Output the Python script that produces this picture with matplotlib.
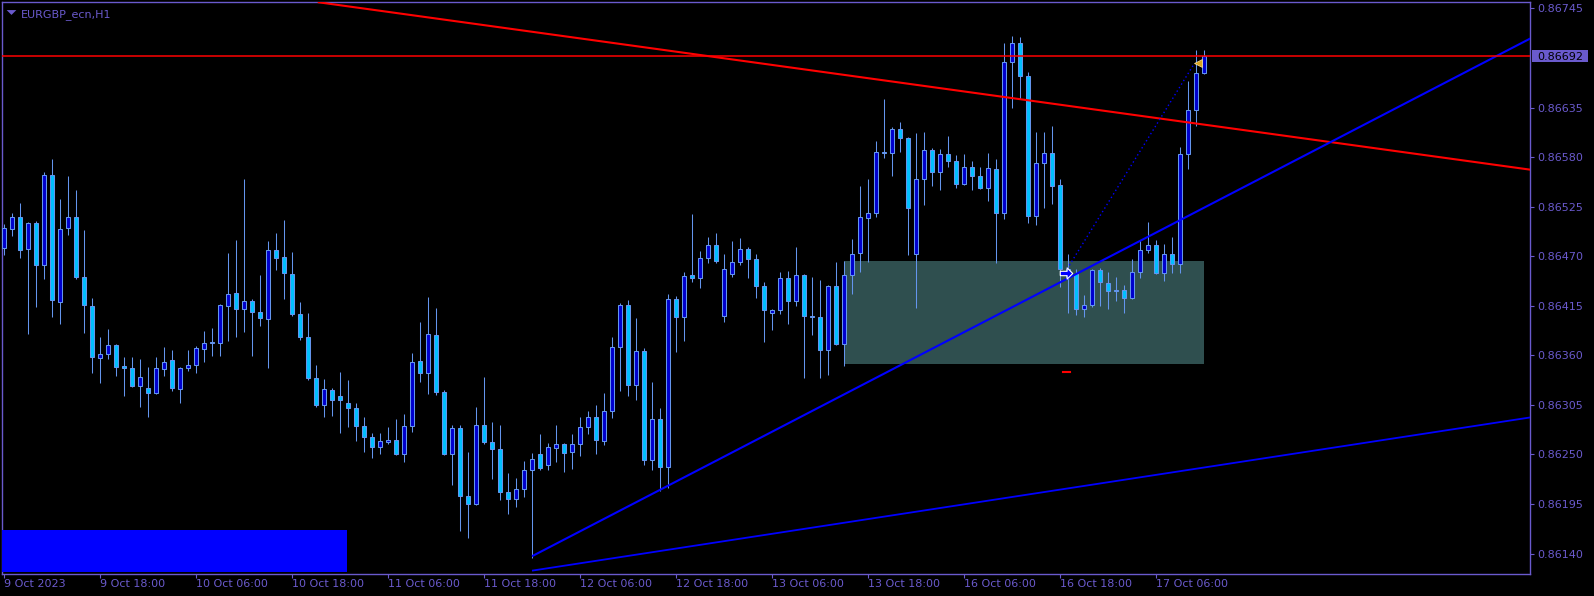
import matplotlib
matplotlib.use("Agg")
import numpy as np
import matplotlib.pyplot as plt
from matplotlib.patches import Rectangle
from matplotlib.transforms import blended_transform_factory

symbol = "EURGBP_ecn,H1"

# hourly candles
opens = [0.86479, 0.86500, 0.86514, 0.86478, 0.86507, 0.86460, 0.86560, 0.86419, 0.86501, 0.86514,
         0.86447, 0.86415, 0.86357, 0.86362, 0.86371, 0.86348, 0.86346, 0.86326, 0.86324, 0.86318,
         0.86345, 0.86355, 0.86323, 0.86346, 0.86349, 0.86367, 0.86374, 0.86374, 0.86415, 0.86429,
         0.86411, 0.86420, 0.86408, 0.86400, 0.86477, 0.86469, 0.86450, 0.86406, 0.86380, 0.86335,
         0.86305, 0.86322, 0.86315, 0.86307, 0.86301, 0.86282, 0.86269, 0.86258, 0.86264, 0.86266,
         0.86250, 0.86282, 0.86354, 0.86340, 0.86383, 0.86319, 0.86251, 0.86279, 0.86204, 0.86195,
         0.86283, 0.86264, 0.86256, 0.86208, 0.86201, 0.86212, 0.86233, 0.86250, 0.86238, 0.86257,
         0.86262, 0.86253, 0.86262, 0.86280, 0.86292, 0.86265, 0.86298, 0.86369, 0.86416, 0.86327,
         0.86365, 0.86244, 0.86289, 0.86236, 0.86422, 0.86403, 0.86449, 0.86446, 0.86468, 0.86482,
         0.86404, 0.86450, 0.86464, 0.86478, 0.86467, 0.86437, 0.86407, 0.86410, 0.86446, 0.86420,
         0.86449, 0.86404, 0.86403, 0.86366, 0.86437, 0.86373, 0.86449, 0.86474, 0.86512, 0.86518,
         0.86586, 0.86584, 0.86611, 0.86601, 0.86472, 0.86556, 0.86588, 0.86564, 0.86583, 0.86576,
         0.86550, 0.86569, 0.86559, 0.86546, 0.86567, 0.86518, 0.86686, 0.86707, 0.86670, 0.86515,
         0.86574, 0.86584, 0.86549, 0.86456, 0.86450, 0.86411, 0.86416, 0.86455, 0.86440, 0.86433,
         0.86433, 0.86424, 0.86453, 0.86477, 0.86482, 0.86451, 0.86473, 0.86461, 0.86583, 0.86632,
         0.86673]
highs = [0.86506, 0.86518, 0.86529, 0.86508, 0.86509, 0.86563, 0.86578, 0.86534, 0.86559, 0.86544,
         0.86499, 0.86424, 0.86380, 0.86389, 0.86373, 0.86358, 0.86358, 0.86356, 0.86347, 0.86358,
         0.86369, 0.86366, 0.86347, 0.86366, 0.86370, 0.86387, 0.86390, 0.86417, 0.86474, 0.86488,
         0.86556, 0.86423, 0.86449, 0.86487, 0.86496, 0.86510, 0.86475, 0.86419, 0.86407, 0.86349,
         0.86334, 0.86324, 0.86342, 0.86333, 0.86307, 0.86292, 0.86274, 0.86274, 0.86280, 0.86289,
         0.86295, 0.86363, 0.86397, 0.86425, 0.86413, 0.86322, 0.86283, 0.86283, 0.86253, 0.86303,
         0.86336, 0.86286, 0.86283, 0.86229, 0.86224, 0.86243, 0.86252, 0.86273, 0.86263, 0.86283,
         0.86263, 0.86273, 0.86292, 0.86298, 0.86305, 0.86318, 0.86380, 0.86418, 0.86421, 0.86401,
         0.86368, 0.86330, 0.86301, 0.86428, 0.86426, 0.86452, 0.86517, 0.86476, 0.86491, 0.86496,
         0.86472, 0.86487, 0.86490, 0.86480, 0.86473, 0.86441, 0.86411, 0.86452, 0.86454, 0.86480,
         0.86450, 0.86447, 0.86444, 0.86438, 0.86464, 0.86465, 0.86489, 0.86548, 0.86556, 0.86598,
         0.86644, 0.86613, 0.86619, 0.86602, 0.86607, 0.86608, 0.86590, 0.86589, 0.86603, 0.86582,
         0.86583, 0.86576, 0.86569, 0.86584, 0.86578, 0.86707, 0.86714, 0.86713, 0.86674, 0.86608,
         0.86608, 0.86614, 0.86556, 0.86472, 0.86456, 0.86427, 0.86456, 0.86457, 0.86453, 0.86447,
         0.86438, 0.86467, 0.86488, 0.86508, 0.86488, 0.86484, 0.86491, 0.86591, 0.86665, 0.86699,
         0.86699]
lows = [0.86471, 0.86492, 0.86468, 0.86384, 0.86414, 0.86445, 0.86402, 0.86395, 0.86494, 0.86445,
        0.86385, 0.86340, 0.86329, 0.86356, 0.86337, 0.86315, 0.86325, 0.86303, 0.86292, 0.86317,
        0.86337, 0.86320, 0.86307, 0.86343, 0.86340, 0.86353, 0.86359, 0.86359, 0.86376, 0.86380,
        0.86386, 0.86359, 0.86392, 0.86346, 0.86455, 0.86422, 0.86404, 0.86377, 0.86333, 0.86303,
        0.86291, 0.86293, 0.86274, 0.86281, 0.86265, 0.86253, 0.86246, 0.86250, 0.86262, 0.86249,
        0.86242, 0.86275, 0.86330, 0.86317, 0.86316, 0.86249, 0.86216, 0.86165, 0.86157, 0.86194,
        0.86262, 0.86223, 0.86199, 0.86184, 0.86192, 0.86203, 0.86135, 0.86233, 0.86233, 0.86242,
        0.86231, 0.86234, 0.86248, 0.86273, 0.86250, 0.86261, 0.86290, 0.86320, 0.86315, 0.86310,
        0.86238, 0.86233, 0.86209, 0.86213, 0.86364, 0.86376, 0.86441, 0.86435, 0.86462, 0.86463,
        0.86397, 0.86447, 0.86460, 0.86446, 0.86424, 0.86375, 0.86388, 0.86406, 0.86395, 0.86415,
        0.86335, 0.86383, 0.86335, 0.86338, 0.86371, 0.86348, 0.86428, 0.86453, 0.86464, 0.86513,
        0.86579, 0.86559, 0.86586, 0.86471, 0.86413, 0.86527, 0.86548, 0.86543, 0.86569, 0.86546,
        0.86549, 0.86544, 0.86545, 0.86531, 0.86462, 0.86511, 0.86635, 0.86645, 0.86507, 0.86505,
        0.86523, 0.86528, 0.86436, 0.86407, 0.86405, 0.86403, 0.86414, 0.86415, 0.86411, 0.86420,
        0.86407, 0.86423, 0.86446, 0.86474, 0.86450, 0.86443, 0.86451, 0.86451, 0.86567, 0.86615,
        0.86672]
closes = [0.86501, 0.86513, 0.86477, 0.86507, 0.86460, 0.86560, 0.86421, 0.86500, 0.86514, 0.86447,
          0.86416, 0.86358, 0.86362, 0.86371, 0.86347, 0.86346, 0.86326, 0.86336, 0.86318, 0.86346,
          0.86353, 0.86324, 0.86346, 0.86349, 0.86368, 0.86374, 0.86375, 0.86416, 0.86428, 0.86411,
          0.86420, 0.86408, 0.86401, 0.86477, 0.86468, 0.86451, 0.86406, 0.86380, 0.86335, 0.86305,
          0.86323, 0.86310, 0.86310, 0.86301, 0.86282, 0.86269, 0.86258, 0.86265, 0.86266, 0.86250,
          0.86282, 0.86353, 0.86340, 0.86384, 0.86319, 0.86250, 0.86279, 0.86204, 0.86195, 0.86283,
          0.86264, 0.86256, 0.86208, 0.86201, 0.86212, 0.86233, 0.86245, 0.86235, 0.86258, 0.86262,
          0.86252, 0.86262, 0.86280, 0.86292, 0.86266, 0.86298, 0.86369, 0.86416, 0.86327, 0.86365,
          0.86244, 0.86289, 0.86236, 0.86422, 0.86403, 0.86448, 0.86446, 0.86468, 0.86482, 0.86465,
          0.86456, 0.86464, 0.86478, 0.86467, 0.86437, 0.86410, 0.86410, 0.86446, 0.86420, 0.86449,
          0.86404, 0.86403, 0.86366, 0.86437, 0.86373, 0.86449, 0.86472, 0.86514, 0.86518, 0.86586,
          0.86584, 0.86611, 0.86601, 0.86524, 0.86556, 0.86588, 0.86564, 0.86583, 0.86576, 0.86550,
          0.86569, 0.86559, 0.86546, 0.86568, 0.86518, 0.86686, 0.86707, 0.86670, 0.86515, 0.86573,
          0.86584, 0.86548, 0.86456, 0.86447, 0.86411, 0.86416, 0.86455, 0.86441, 0.86431, 0.86431,
          0.86424, 0.86453, 0.86477, 0.86482, 0.86451, 0.86473, 0.86461, 0.86583, 0.86632, 0.86673,
          0.86692]

time_labels = ["9 Oct 2023", "9 Oct 18:00", "10 Oct 06:00", "10 Oct 18:00", "11 Oct 06:00",
               "11 Oct 18:00", "12 Oct 06:00", "12 Oct 18:00", "13 Oct 06:00", "13 Oct 18:00",
               "16 Oct 06:00", "16 Oct 18:00", "17 Oct 06:00"]
label_step = 12
price_ticks = [0.86745, 0.86635, 0.86580, 0.86525, 0.86470, 0.86415, 0.86360, 0.86305,
               0.86250, 0.86195, 0.86140]
bid = 0.86692

# chart objects (bar index, price)
zone_bars = [105, 150]
zone_prices = [0.86350, 0.86465]
red_trend_bars = [40, 190]
red_trend_prices = [0.86751, 0.86567]
blue_trend_bars = [66, 190]
blue_trend_prices = [0.86137, 0.86708]
low_trend_bars = [66, 190]
low_trend_prices = [0.86121, 0.86290]
trade_bars = [132.9, 148.8]
trade_prices = [0.86456, 0.86684]
stop_bars = [132.4, 133.2]
stop_price = 0.86342

FG = "#6A5ACD"
WICK = "#6495ED"
BULL = "#0000CD"
BEAR = "#00BFFF"

plt.rcParams["font.family"] = ["DejaVu Sans"]

W, H = 1594, 596
left, right, top, bottom = 2.3, 1530, 2.3, 574
fig = plt.figure(figsize=(W / 100, H / 100), dpi=100, facecolor="black")
ax = fig.add_axes([left / W, (H - bottom) / H, (right - left) / W, (bottom - top) / H])
ax.set_facecolor("black")

x = np.arange(len(opens))
o = np.array(opens)
h = np.array(highs)
l = np.array(lows)
c = np.array(closes)
up = c >= o

ax.set_xlim(-0.21, 190.75)
ax.set_ylim(0.861173, 0.867518)

# zone rectangle sits behind the candles
ax.add_patch(Rectangle((zone_bars[0], zone_prices[0]), zone_bars[1] - zone_bars[0],
                       zone_prices[1] - zone_prices[0], facecolor="#2F4F4F", edgecolor="none", zorder=1))

ax.vlines(x, l, h, color=WICK, lw=0.75, zorder=2)
body_lo = np.minimum(o, c)
body_h = np.abs(c - o)
ax.bar(x[up], body_h[up], bottom=body_lo[up], width=0.5, color=BULL, edgecolor=WICK, linewidth=0.75, zorder=3)
ax.bar(x[~up], body_h[~up], bottom=body_lo[~up], width=0.5, color=BEAR, edgecolor=WICK, linewidth=0.75, zorder=3)

# trend lines
ax.axline((red_trend_bars[0], red_trend_prices[0]), (red_trend_bars[1], red_trend_prices[1]),
          color="#FF0000", lw=1.5, zorder=4)
for bars, prices, lw in [(blue_trend_bars, blue_trend_prices, 1.5), (low_trend_bars, low_trend_prices, 1.3)]:
    slope = (prices[1] - prices[0]) / (bars[1] - bars[0])
    xe = [bars[0], 195]
    ye = [prices[0], prices[0] + slope * (195 - bars[0])]
    ax.plot(xe, ye, color="#0000FF", lw=lw, zorder=4, solid_capstyle="butt")

ax.axhline(bid, color="#FF0000", lw=1.1, zorder=4)

# trade marks
ax.plot(trade_bars, trade_prices, color="#0000FF", lw=1, ls=(0, (1, 2)), zorder=5)
arrow = [(-1, -0.35), (0.1, -0.35), (0.1, -0.9), (1, 0), (0.1, 0.9), (0.1, 0.35), (-1, 0.35), (-1, -0.35)]
ax.plot([132.7], [0.86451], marker=arrow, ms=9, mfc="#0000FF", mec="white", mew=0.8, zorder=6)
ax.plot([149.3], [trade_prices[1]], marker="<", ms=6, mfc="#DAA520", mec="#FFE0A0", mew=0.5, zorder=6)
ax.plot(stop_bars, [stop_price, stop_price], color="#FF0000", lw=1.5, zorder=5)

# blue panel bottom-left
ax.add_patch(Rectangle((0, 0.0035), 0.2256, 0.0735, transform=ax.transAxes,
                       facecolor="#0000FF", edgecolor="none", zorder=6))

# axes styling
for s in ax.spines.values():
    s.set_color(FG)
    s.set_linewidth(1)
ax.yaxis.tick_right()
ax.set_yticks(price_ticks)
ax.set_yticklabels([f"{p:.5f}" for p in price_ticks])
ax.set_xticks(np.arange(len(time_labels)) * label_step)
ax.set_xticklabels(time_labels, ha="left")
ax.tick_params(axis="both", colors=FG, labelsize=8, length=3, width=0.8, direction="out")
ax.tick_params(axis="x", pad=0.8)
ax.tick_params(axis="y", pad=2.2)

# bid label
tr = blended_transform_factory(ax.transAxes, ax.transData)
ax.add_patch(Rectangle((1.0011, bid - 0.000069), 0.0371, 0.000138, transform=tr,
                       facecolor=FG, edgecolor="none", clip_on=False, zorder=7))
ax.text(1.0046, bid, f"{bid:.5f}", transform=tr, color="black", fontsize=8,
        ha="left", va="center_baseline", zorder=8, clip_on=False)

# symbol caption
tri = [(-1, 0.5), (1, 0.5), (0, -0.5), (-1, 0.5)]
ax.plot([0.0054], [0.9823], transform=ax.transAxes, marker=tri, ms=7, mfc=FG, mec=FG, mew=0, zorder=8)
ax.text(0.0122, 0.9739, symbol, transform=ax.transAxes, color=FG, fontsize=8, ha="left", va="baseline", zorder=8)

fig.savefig("out.png", dpi=100, facecolor="black")
